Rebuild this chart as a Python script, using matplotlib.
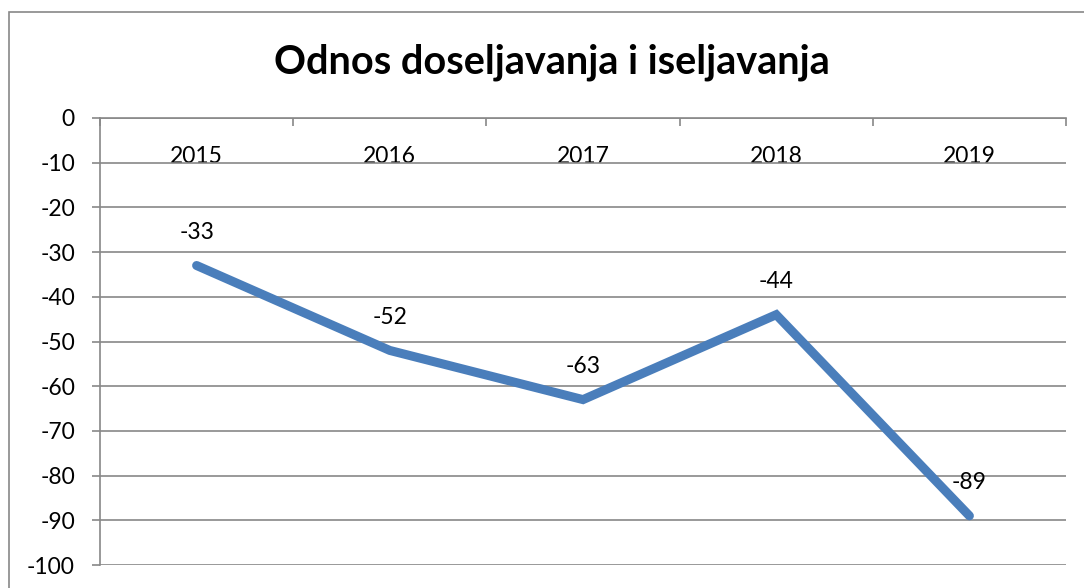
import matplotlib
matplotlib.use("Agg")
import matplotlib.pyplot as plt
from matplotlib.patches import Rectangle

years = ["2015", "2016", "2017", "2018", "2019"]
values = [-33, -52, -63, -44, -89]
y_ticks = list(range(0, -101, -10))

title = "Odnos doseljavanja i iseljavanja"
line_color = "#4A7EBB"
grid_color = "#888888"

plt.rcParams["font.family"] = ["Lato", "DejaVu Sans"]

W, H = 1084, 588
fig = plt.figure(figsize=(W / 100, H / 100), dpi=100)

# outer chart border (runs off the right and bottom edges)
fig.patches.append(Rectangle((9 / W, -0.05), 1.2, 1 - 12 / H + 0.05,
                             transform=fig.transFigure, fill=False,
                             edgecolor=grid_color, linewidth=1.2))

ax = fig.add_axes([100 / W, (H - 565) / H, (1066 - 100) / W, (565 - 118) / H])

x = [i + 0.5 for i in range(len(years))]
ax.plot(x, values, color=line_color, linewidth=6.5, solid_capstyle="round",
        solid_joinstyle="miter", zorder=3)

for xi, v in zip(x, values):
    ax.annotate(str(v), (xi, v), xytext=(0, 24), textcoords="offset points",
                ha="center", va="center", fontsize=16.5, color="black")

ax.set_xlim(0, len(years))
ax.set_ylim(-100, 0)
ax.set_yticks(y_ticks)
ax.set_yticklabels([str(t) for t in y_ticks])
ax.yaxis.grid(True, color=grid_color, linewidth=1.2)
ax.set_axisbelow(True)

# category axis sits at y = 0 (top), labels below it
ax.set_xticks(x)
ax.set_xticklabels(years)
ax.set_xticks(range(len(years) + 1), minor=True)
ax.tick_params(axis="x", which="major", top=True, bottom=False, labeltop=True,
               labelbottom=False, length=0, pad=-35, labelsize=16.5)
ax.tick_params(axis="x", which="minor", top=True, bottom=False, direction="in",
               length=6, width=1.2, color=grid_color)
for lab in ax.get_xticklabels():
    lab.set_verticalalignment("bottom")
ax.tick_params(axis="y", length=6, width=1.2, color=grid_color, pad=12,
               labelsize=16.5)

for side in ["right", "bottom"]:
    ax.spines[side].set_visible(False)
for side in ["left", "top"]:
    ax.spines[side].set_color(grid_color)
    ax.spines[side].set_linewidth(1.2)

fig.text(552 / W, 1 - 62 / H, title, ha="center", va="center",
         fontsize=28.5, fontweight="bold")

fig.savefig("out.png", dpi=100)
